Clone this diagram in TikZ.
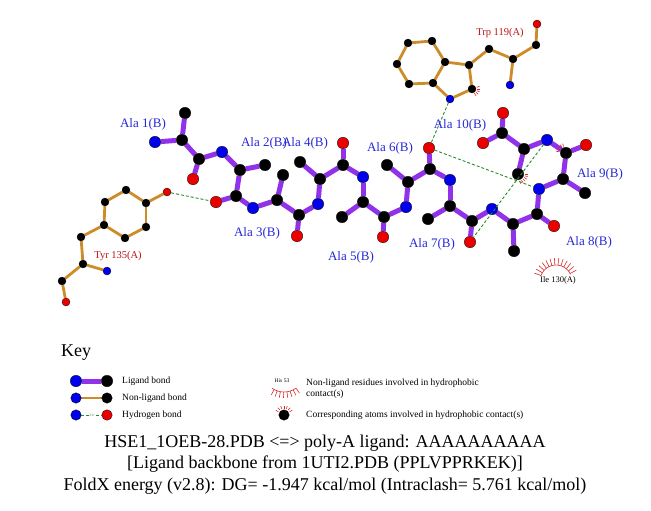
\documentclass[tikz,border=0pt]{standalone}
\usepackage{fontspec}
\setmainfont{Liberation Serif}
\pgfdeclarelayer{bg}
\pgfsetlayers{bg,main}
\definecolor{ligbond}{RGB}{145,50,235}
\definecolor{nlbond}{RGB}{205,140,40}
\definecolor{hbgreen}{RGB}{40,140,40}
\definecolor{atomblue}{RGB}{0,0,235}
\definecolor{atomred}{RGB}{235,0,0}
\definecolor{labblue}{RGB}{40,40,215}
\definecolor{reslab}{RGB}{190,20,20}
\definecolor{hydred}{RGB}{215,40,40}
\tikzset{
  lat/.style={circle,inner sep=0pt,minimum size=11.5pt,draw=black,line width=0.3pt},
  lC/.style={lat,fill=black},
  lN/.style={lat,fill=atomblue},
  lO/.style={lat,fill=atomred},
  nat/.style={circle,inner sep=0pt,minimum size=8pt,draw=black,line width=0.3pt},
  nC/.style={nat,fill=black},
  nN/.style={nat,fill=atomblue},
  nO/.style={nat,fill=atomred},
  lb/.style={line width=5pt,draw=ligbond},
  nb/.style={line width=2.8pt,draw=nlbond},
  hb/.style={draw=hbgreen,line width=0.9pt,dash pattern=on 3pt off 2pt},
  alab/.style={text=labblue,font=\fontsize{13}{13}\selectfont,inner sep=0pt},
  rlab/.style={text=reslab,font=\fontsize{10.5}{10.5}\selectfont,inner sep=0pt},
  hyd/.style={draw=hydred,line width=0.6pt},
  keytxt/.style={font=\fontsize{9.5}{10.5}\selectfont,inner sep=0pt,anchor=west,align=left},
  ttl/.style={font=\fontsize{18}{18}\selectfont,inner sep=0pt}
}
\begin{document}
\begin{tikzpicture}[x=1pt,y=-1pt]
\useasboundingbox (0,0) rectangle (651,511);
% ---------------- ligand atoms
\node[lN] (a1n) at (155,142) {};
\node[lC] (a1ca) at (182,140) {};
\node[lC] (a1cb) at (185,113) {};
\node[lC] (a1c) at (199,159) {};
\node[lO] (a1o) at (193,179) {};
\node[lN] (a2n) at (222,152) {};
\node[lC] (a2ca) at (240,170) {};
\node[lC] (a2cb) at (265,165) {};
\node[lC] (a2c) at (236,196) {};
\node[lO] (a2o) at (216,202) {};
\node[lN] (a3n) at (253,208) {};
\node[lC] (a3ca) at (277,200) {};
\node[lC] (a3cb) at (283,175) {};
\node[lC] (a3c) at (299,215) {};
\node[lO] (a3o) at (297,236) {};
\node[lN] (a4n) at (318,204) {};
\node[lC] (a4ca) at (320,179) {};
\node[lC] (a4cb) at (300,162) {};
\node[lC] (a4c) at (343,165) {};
\node[lO] (a4o) at (343,143) {};
\node[lN] (a5n) at (363,177) {};
\node[lC] (a5ca) at (363,202) {};
\node[lC] (a5cb) at (342,217) {};
\node[lC] (a5c) at (384,217) {};
\node[lO] (a5o) at (383,237) {};
\node[lN] (a6n) at (406,207) {};
\node[lC] (a6ca) at (408,182) {};
\node[lC] (a6cb) at (387,165) {};
\node[lC] (a6c) at (430,169) {};
\node[lO] (a6o) at (429,148) {};
\node[lN] (a7n) at (450,180) {};
\node[lC] (a7ca) at (450,206) {};
\node[lC] (a7cb) at (428,219) {};
\node[lC] (a7c) at (472,221) {};
\node[lO] (a7o) at (470,242) {};
\node[lN] (a8n) at (492,209) {};
\node[lC] (a8ca) at (513,224) {};
\node[lC] (a8cb) at (514,251) {};
\node[lC] (a8c) at (537,214) {};
\node[lO] (a8o) at (554,226) {};
\node[lN] (a9n) at (539,189) {};
\node[lC] (a9ca) at (563,179) {};
\node[lC] (a9cb) at (585,193) {};
\node[lC] (a9c) at (566,153) {};
\node[lO] (a9o) at (586,145) {};
\node[lN] (a10n) at (547,140) {};
\node[lC] (a10ca) at (524,149) {};
\node[lC] (a10cb) at (518,174) {};
\node[lC] (a10c) at (502,133) {};
\node[lO] (a10oa) at (503,113) {};
\node[lO] (a10ob) at (483,143) {};
% ---------------- Tyr 135
\node[nO] (tOH) at (167,192) {};
\node[nC] (tCZ) at (146,203) {};
\node[nC] (tCE1) at (126,190) {};
\node[nC] (tCD1) at (105,202) {};
\node[nC] (tCG) at (104,225) {};
\node[nC] (tCD2) at (125,238) {};
\node[nC] (tCE2) at (146,227) {};
\node[nC] (tCB) at (81,237) {};
\node[nC] (tCA) at (83,264) {};
\node[nN] (tN) at (107,271) {};
\node[nC] (tC) at (62,281) {};
\node[nO] (tO) at (66,302) {};
% ---------------- Trp 119
\node[nO] (wO) at (537,24) {};
\node[nC] (wC) at (536,45) {};
\node[nC] (wCA) at (513,59) {};
\node[nN] (wN) at (510,85) {};
\node[nC] (wCB) at (489,49) {};
\node[nC] (wCG) at (469,65) {};
\node[nC] (wCD1) at (472,89) {};
\node[nN] (wNE1) at (450,99) {};
\node[nC] (wCE2) at (433,83) {};
\node[nC] (wCD2) at (445,62) {};
\node[nC] (wCE3) at (432,41) {};
\node[nC] (wCZ3) at (408,43) {};
\node[nC] (wCH2) at (397,64) {};
\node[nC] (wCZ2) at (409,84) {};
% ---------------- bonds
\begin{pgfonlayer}{bg}
\foreach \p/\q in {a1n/a1ca,a1ca/a1cb,a1ca/a1c,a1c/a1o,a1c/a2n,
  a2n/a2ca,a2ca/a2cb,a2ca/a2c,a2c/a2o,a2c/a3n,
  a3n/a3ca,a3ca/a3cb,a3ca/a3c,a3c/a3o,a3c/a4n,
  a4n/a4ca,a4ca/a4cb,a4ca/a4c,a4c/a4o,a4c/a5n,
  a5n/a5ca,a5ca/a5cb,a5ca/a5c,a5c/a5o,a5c/a6n,
  a6n/a6ca,a6ca/a6cb,a6ca/a6c,a6c/a6o,a6c/a7n,
  a7n/a7ca,a7ca/a7cb,a7ca/a7c,a7c/a7o,a7c/a8n,
  a8n/a8ca,a8ca/a8cb,a8ca/a8c,a8c/a8o,a8c/a9n,
  a9n/a9ca,a9ca/a9cb,a9ca/a9c,a9c/a9o,a9c/a10n,
  a10n/a10ca,a10ca/a10cb,a10ca/a10c,a10c/a10oa,a10c/a10ob}
  \draw[lb] (\p) -- (\q);
\foreach \p/\q in {tOH/tCZ,tCZ/tCE1,tCE1/tCD1,tCD1/tCG,tCG/tCD2,tCD2/tCE2,tCE2/tCZ,
  tCG/tCB,tCB/tCA,tCA/tN,tCA/tC,tC/tO,
  wO/wC,wC/wCA,wCA/wN,wCA/wCB,wCB/wCG,wCG/wCD1,wCD1/wNE1,wNE1/wCE2,wCE2/wCD2,
  wCD2/wCG,wCD2/wCE3,wCE3/wCZ3,wCZ3/wCH2,wCH2/wCZ2,wCZ2/wCE2}
  \draw[nb] (\p) -- (\q);
\end{pgfonlayer}
% ---------------- hydrogen bonds
\draw[hb] (tOH) -- (a2o);
\draw[hb] (wNE1) -- (a6o);
\draw[hb] (a6o) -- (a9n);
\draw[hb] (a10n) -- (a7o);
% ---------------- hydrophobic marks on atoms
\foreach \ang in {190,205,...,250}
  \draw[hyd] ([shift={(\ang:7)}]a9c.center) -- ([shift={(\ang:10)}]a9c.center);
\foreach \ang in {0,15,...,75}
  \draw[hyd] ([shift={(\ang:7)}]a10cb.center) -- ([shift={(\ang:10)}]a10cb.center);
\foreach \ang in {-20,0,...,60}
  \draw[hyd] ([shift={(\ang:5)}]wCD1.center) -- ([shift={(\ang:8)}]wCD1.center);
% ---------------- Ile 130
\coordinate (ile) at (556,281);
\draw[hyd] ([shift={(200:16)}]ile) arc[start angle=200,end angle=335,radius=16];
\foreach \ang in {200,211,...,335}
  \draw[hyd] ([shift={(\ang:16)}]ile) -- ([shift={(\ang:23)}]ile);
\node[font=\fontsize{8.5}{8.5}\selectfont,inner sep=0pt] (ilel) at (558,280) {Ile 130(A)};
% ---------------- labels
\node[alab] (l1) at (143,124) {Ala 1(B)};
\node[alab] (l2) at (264,143) {Ala 2(B)};
\node[alab] (l4) at (305,143) {Ala 4(B)};
\node[alab] (l3) at (257,233) {Ala 3(B)};
\node[alab] (l5) at (351,257) {Ala 5(B)};
\node[alab] (l6) at (390,148) {Ala 6(B)};
\node[alab] (l7) at (432,244) {Ala 7(B)};
\node[alab] (l8) at (589,242) {Ala 8(B)};
\node[alab] (l9) at (600,174) {Ala 9(B)};
\node[alab] (l10) at (460,125) {Ala 10(B)};
\node[rlab] (ty) at (118,256) {Tyr 135(A)};
\node[rlab] (tw) at (500,33) {Trp 119(A)};
% ---------------- key
\node[font=\fontsize{18}{18}\selectfont,inner sep=0pt,anchor=west] (key) at (61,353) {Key};
\node[lN] (k1a) at (76,381) {};
\node[lC] (k1b) at (107,381) {};
\node[lN,minimum size=10.5pt] (k2a) at (76,398) {};
\node[lC,minimum size=10.5pt] (k2b) at (107,398) {};
\node[lN,minimum size=10.5pt] (k3a) at (76,415) {};
\node[lO,minimum size=10.5pt] (k3b) at (107,415) {};
\begin{pgfonlayer}{bg}
\draw[lb] (k1a) -- (k1b);
\draw[nb] (k2a) -- (k2b);
\end{pgfonlayer}
\draw[hb] (k3a) -- (k3b);
\node[fill=white,inner sep=0.3pt,text=hbgreen,font=\fontsize{3.5}{3.5}\selectfont] (k3t) at (91.5,415) {3.0};
\node[keytxt] (k1t) at (122,381) {Ligand bond};
\node[keytxt] (k2t) at (122,398) {Non-ligand bond};
\node[keytxt] (k3t2) at (122,415) {Hydrogen bond};
% key right column
\node[font=\fontsize{5.5}{5.5}\selectfont,inner sep=0pt] (his) at (282,381) {His 53};
\coordinate (hisc) at (284,371);
\draw[hyd] ([shift={(55:21)}]hisc) arc[start angle=55,end angle=125,radius=21];
\foreach \ang in {55,64,...,125}
  \draw[hyd] ([shift={(\ang:21)}]hisc) -- ([shift={(\ang:27)}]hisc);
\node[keytxt] (k4t) at (306,383) {Non-ligand residues involved in hydrophobic};
\node[keytxt] (k4t2) at (306,394) {contact(s)};
\node[lC,minimum size=10.5pt] (k5a) at (284,415) {};
\foreach \ang in {210,230,...,330}
  \draw[hyd] ([shift={(\ang:6.5)}]k5a.center) -- ([shift={(\ang:9.5)}]k5a.center);
\node[keytxt] (k5t) at (306,415) {Corresponding atoms involved in hydrophobic contact(s)};
% ---------------- title
\node[ttl] (t1) at (325,443) {HSE1\_1OEB-28.PDB <=> poly-A ligand: AAAAAAAAAA};
\node[ttl] (t2) at (325,464) {[Ligand backbone from 1UTI2.PDB (PPLVPPRKEK)]};
\node[ttl] (t3) at (325,486) {FoldX energy (v2.8): DG= -1.947 kcal/mol (Intraclash= 5.761 kcal/mol)};
\end{tikzpicture}
\end{document}
